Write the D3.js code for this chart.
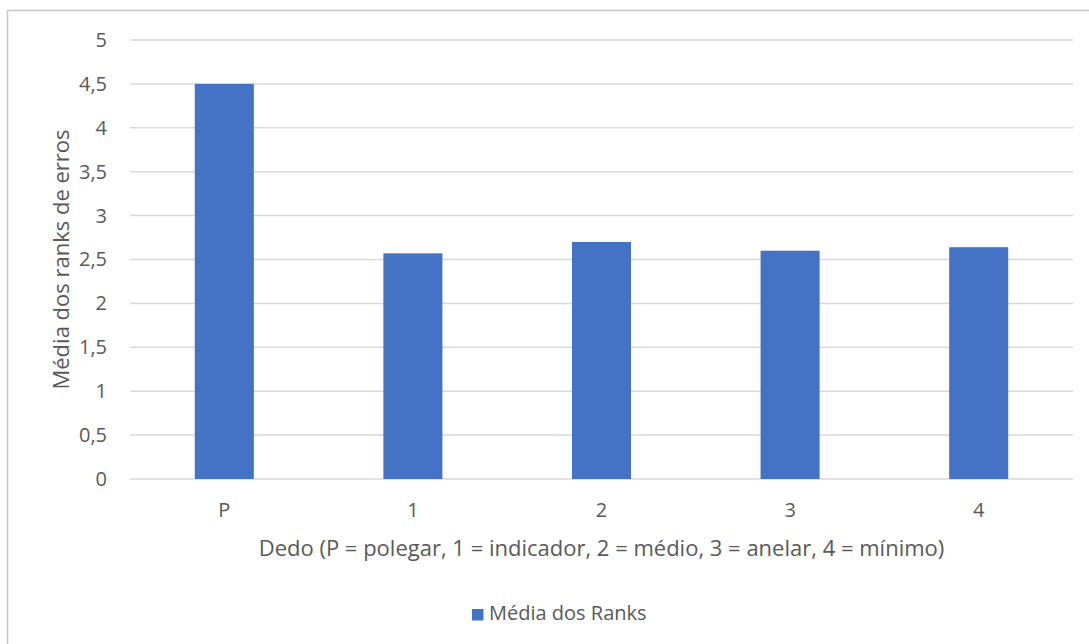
<!DOCTYPE html>
<html>
<head>
<meta charset="utf-8">
<script src="https://cdn.jsdelivr.net/npm/d3@7"></script>
<style>
  html, body { margin: 0; padding: 0; background: #fff; }
  svg { display: block; }
  text { font-family: "Open Sans", sans-serif; fill: #595959; }
</style>
</head>
<body>
<svg id="chart" width="1089" height="644"></svg>
<script>
// Dedos e média dos ranks de erros
const categories = ["P", "1", "2", "3", "4"];
const values = [4.5, 2.57, 2.7, 2.6, 2.64];
const yTicks = [0, 0.5, 1, 1.5, 2, 2.5, 3, 3.5, 4, 4.5, 5];
const seriesName = "Média dos Ranks";
const xTitle = "Dedo (P = polegar, 1 = indicador, 2 = médio, 3 = anelar, 4 = mínimo)";
const yTitle = "Média dos ranks de erros";

const W = 1089, H = 644;
const plot = { left: 130, right: 1073, top: 40, bottom: 479 };
const barColor = "#4472C4";
const gridColor = "#d9d9d9";
const fontFamily = "\"Open Sans\", sans-serif";

const svg = d3.select("#chart");

// chart frame
svg.append("path")
  .attr("d", `M7.5,${H} V10.5 H${W}`)
  .attr("fill", "none")
  .attr("stroke", "#c6c6c6")
  .attr("stroke-width", 1.5);

const x = d3.scaleBand()
  .domain(categories)
  .range([plot.left, plot.right])
  .paddingInner(0.687)
  .paddingOuter(0.687 / 2);

const y = d3.scaleLinear()
  .domain([0, 5])
  .range([plot.bottom, plot.top]);

const fmt = v => String(v).replace(".", ",");

// gridlines
svg.append("g")
  .selectAll("line")
  .data(yTicks)
  .join("line")
  .attr("x1", plot.left)
  .attr("x2", plot.right)
  .attr("y1", d => y(d))
  .attr("y2", d => y(d))
  .attr("stroke", gridColor)
  .attr("stroke-width", 1.5);

// y axis labels
const yAxis = svg.append("g")
  .attr("transform", `translate(${plot.left - 23},0)`)
  .call(d3.axisLeft(y).tickValues(yTicks).tickFormat(fmt).tickSize(0).tickPadding(0));
yAxis.select(".domain").remove();
yAxis.selectAll("text")
  .attr("font-size", 20)
  .attr("fill", "#595959")
  .style("font-family", fontFamily);

// bars
svg.append("g")
  .selectAll("rect")
  .data(values)
  .join("rect")
  .attr("x", (d, i) => x(categories[i]))
  .attr("width", x.bandwidth())
  .attr("y", d => y(d))
  .attr("height", d => y(0) - y(d))
  .attr("fill", barColor);

// x axis labels
const xAxis = svg.append("g")
  .attr("transform", `translate(0,${plot.bottom + 24})`)
  .call(d3.axisBottom(x).tickSize(0).tickPadding(0));
xAxis.select(".domain").remove();
xAxis.selectAll("text")
  .attr("font-size", 20)
  .attr("fill", "#595959")
  .attr("dy", "0.71em")
  .style("font-family", fontFamily);

// axis titles
svg.append("text")
  .attr("x", (plot.left + plot.right) / 2)
  .attr("y", 556)
  .attr("text-anchor", "middle")
  .attr("font-size", 22)
  .text(xTitle);

svg.append("text")
  .attr("transform", `translate(69,${(plot.top + plot.bottom) / 2}) rotate(-90)`)
  .attr("text-anchor", "middle")
  .attr("font-size", 22)
  .text(yTitle);

// legend
const legend = svg.append("g").attr("transform", "translate(472,620)");
legend.append("rect")
  .attr("x", 0).attr("y", -11)
  .attr("width", 11.5).attr("height", 11.5)
  .attr("fill", barColor);
legend.append("text")
  .attr("x", 17).attr("y", 0)
  .attr("font-size", 20)
  .text(seriesName);
</script>
</body>
</html>
